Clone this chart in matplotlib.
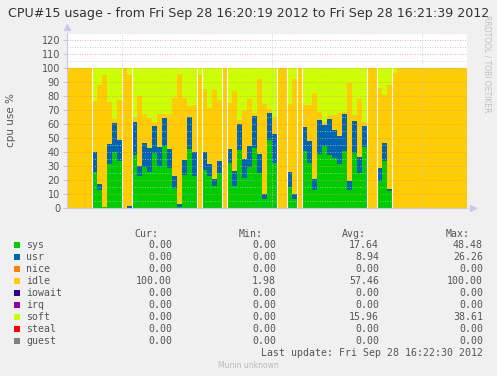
import numpy as np
import matplotlib
matplotlib.use("Agg")
import matplotlib.pyplot as plt
from matplotlib.patches import Rectangle

# one sample per second, 16:20:19 -> 16:21:39
sys_v = [0, 0, 0, 0, 0, 26.0, 12.9, 1.0, 31.4, 40.0,
         33.8, 0, 0, 37.9, 23.0, 29.5, 26.0, 39.0, 30.0, 44.3,
         28.7, 14.4, 0.8, 23.5, 42.0, 22.9, 0, 26.9, 22.6, 15.7,
         25.0, 0, 32.4, 15.7, 41.7, 21.7, 29.3, 42.9, 25.0, 6.2,
         48.5, 32.4, 0, 0, 15.0, 6.2, 0, 40.5, 32.4, 13.1,
         38.8, 44.3, 38.1, 35.7, 31.7, 40.5, 12.6, 39.5, 25.2, 43.6,
         0, 0, 19.0, 33.6, 11.9, 0, 0, 0, 0, 0,
         0, 0, 0, 0, 0, 0, 0, 0, 0, 0]
usr_v = [0, 0, 0, 0, 0, 14.0, 4.1, 0, 14.3, 20.7,
         14.8, 0, 1.5, 23.5, 7.0, 17.0, 17.0, 19.8, 13.3, 20.0,
         13.3, 8.5, 2.2, 10.8, 23.1, 17.1, 0, 13.1, 9.1, 4.8,
         8.6, 0, 9.5, 10.7, 18.5, 13.1, 15.0, 22.8, 13.6, 4.0,
         19.6, 20.7, 0, 0, 10.7, 4.0, 0, 17.4, 15.5, 7.4,
         23.8, 15.2, 25.2, 20.2, 19.7, 26.3, 6.7, 22.4, 11.2, 15.0,
         0, 0, 9.6, 12.8, 1.9, 0, 0, 0, 0, 0,
         0, 0, 0, 0, 0, 0, 0, 0, 0, 0]
idle_v = [100, 100, 100, 100, 100, 36.7, 70.9, 94.0, 30.3, 2.6,
          28.4, 100, 93.5, 3.4, 50.0, 20.5, 21.0, 2.6, 23.7, 2.7,
          25.0, 55.9, 93.0, 44.5, 7.9, 33.3, 95.2, 45.2, 39.7, 63.5,
          43.3, 100, 33.3, 56.9, 2.4, 34.2, 33.8, 2.0, 53.8, 64.3,
          2.5, 11.9, 100, 100, 48.8, 82.2, 100, 15.4, 25.4, 61.6,
          6.0, 2.0, 2.9, 10.3, 16.7, 2.0, 70.0, 4.3, 41.2, 2.8,
          100, 100, 57.1, 34.6, 74.3, 96.7, 100, 100, 100, 100,
          100, 100, 100, 100, 100, 100, 100, 100, 100, 100]
soft_v = [0, 0, 0, 0, 0, 23.3, 12.1, 5.0, 24.0, 36.7,
          23.0, 0, 5.0, 35.2, 20.0, 33.0, 36.0, 38.6, 33.0, 33.0,
          33.0, 21.2, 4.0, 21.2, 27.0, 26.7, 4.8, 14.8, 28.6, 16.0,
          23.1, 0, 24.8, 16.7, 37.4, 31.0, 21.9, 32.3, 7.6, 25.5,
          29.4, 35.0, 0, 0, 25.5, 7.6, 0, 26.7, 26.7, 17.9,
          31.4, 38.5, 33.8, 33.8, 31.9, 31.2, 10.7, 33.8, 22.4, 38.6,
          0, 0, 14.3, 19.0, 11.9, 3.3, 0, 0, 0, 0,
          0, 0, 0, 0, 0, 0, 0, 0, 0, 0]

# legend table
names = ["sys", "usr", "nice", "idle", "iowait", "irq", "soft", "steal", "guest"]
colors = ["#00CC00", "#0066B3", "#FF8000", "#FFCC00", "#330099",
          "#990099", "#CCFF00", "#FF0000", "#808080"]
cur = [0, 0, 0, 100, 0, 0, 0, 0, 0]
mins = [0, 0, 0, 1.98, 0, 0, 0, 0, 0]
avgs = [17.64, 8.94, 0, 57.46, 0, 0, 15.96, 0, 0]
maxs = [48.48, 26.26, 0, 100, 0, 0, 38.61, 0, 0]

# time grid: 16:20:30, 16:21:00, 16:21:30 as seconds after 16:20:19
time_grid = [11, 41, 71]

W, H = 497, 376
def fx(x):
    return x / W
def fy(y):
    return 1 - y / H

fig = plt.figure(figsize=(W / 100, H / 100), dpi=100, facecolor="#F0F0F0")
ytop = 125.3
ax = fig.add_axes([fx(67), fy(208), 400 / W, ytop * 1.4 / H])
ax.set_facecolor("white")

t = np.arange(len(sys_v))
bottom = np.zeros(len(t))
for vals, col in [(sys_v, colors[0]), (usr_v, colors[1]), (idle_v, colors[3]), (soft_v, colors[6])]:
    ax.bar(t, vals, width=1.0, bottom=bottom, align="edge", color=col, linewidth=0, zorder=1)
    bottom = bottom + np.array(vals)

# thin white seams where sys starts/stops
s = np.array(sys_v) > 0
for i in range(1, len(s)):
    if s[i] != s[i - 1]:
        ax.vlines(i, 0, 100, color="white", lw=0.8, zorder=2)

ax.set_xlim(0, len(t))
ax.set_ylim(0, ytop)

# grid
for v in np.arange(5, 126, 10):
    ax.axhline(v, color="#C8C8C8", lw=0.6, ls=(0, (1, 2)), zorder=3)
for v in np.arange(10, 121, 10):
    ax.axhline(v, color="#E89090", lw=0.6, ls=(0, (1, 2)), zorder=3)
for g in time_grid:
    ax.axvline(g, color="#C8C8C8", lw=0.6, ls=(0, (1, 2)), zorder=3)

ax.set_xticks([])
ax.set_yticks(np.arange(0, 121, 10))
ax.set_yticklabels([str(v) for v in range(0, 121, 10)], fontsize=7, color="#555555")
ax.tick_params(axis="y", length=3, width=0.6, color="#C0C0C0", pad=2)
for sp in ["top", "right"]:
    ax.spines[sp].set_visible(False)
ax.spines["left"].set_color("#C8C8E8")
ax.spines["bottom"].set_color("#C8C8E8")
ax.spines["left"].set_linewidth(0.8)
ax.spines["bottom"].set_linewidth(0.8)
ax.plot([0], [1.03], marker="^", color="#C8C8F0", ms=4, transform=ax.transAxes, clip_on=False)
ax.plot([1.014], [0], marker=">", color="#C8C8F0", ms=4, transform=ax.transAxes, clip_on=False)

fig.text(fx(11), fy(120), "cpu use %", rotation=90, ha="center", va="center", fontsize=7.5, color="#555555")
fig.text(fx(248.5), fy(14), "CPU#15 usage - from Fri Sep 28 16:20:19 2012 to Fri Sep 28 16:21:39 2012",
         ha="center", va="center", fontsize=9.1, color="#333333")
fig.text(fx(487), fy(15), "RRDTOOL / TOBI OETIKER", rotation=270, ha="center", va="top",
         fontsize=5.5, color="#C0C0C0")

mono = dict(family="DejaVu Sans Mono", fontsize=7.1, color="#555555", va="center")
hy = 234
for lab, xr in [("Cur:", 158), ("Min:", 263), ("Avg:", 366), ("Max:", 470)]:
    fig.text(fx(xr), fy(hy), lab, ha="right", **mono)
for i, n in enumerate(names):
    y = 245 + 12 * i
    fig.patches.append(Rectangle((fx(14), fy(y + 3)), 6 / W, 6 / H, transform=fig.transFigure,
                                 facecolor=colors[i], edgecolor="none"))
    fig.text(fx(26), fy(y), n, ha="left", **mono)
    for vals, xr in [(cur, 172), (mins, 276), (avgs, 379), (maxs, 483)]:
        fig.text(fx(xr), fy(y), "%.2f" % vals[i], ha="right", **mono)
fig.text(fx(483), fy(353), "Last update: Fri Sep 28 16:22:30 2012", ha="right", **mono)
fig.text(fx(248), fy(366), "Munin unknown", ha="center", va="center", fontsize=5.5, color="#BBBBBB")

fig.savefig("out.png", dpi=100, facecolor=fig.get_facecolor())
